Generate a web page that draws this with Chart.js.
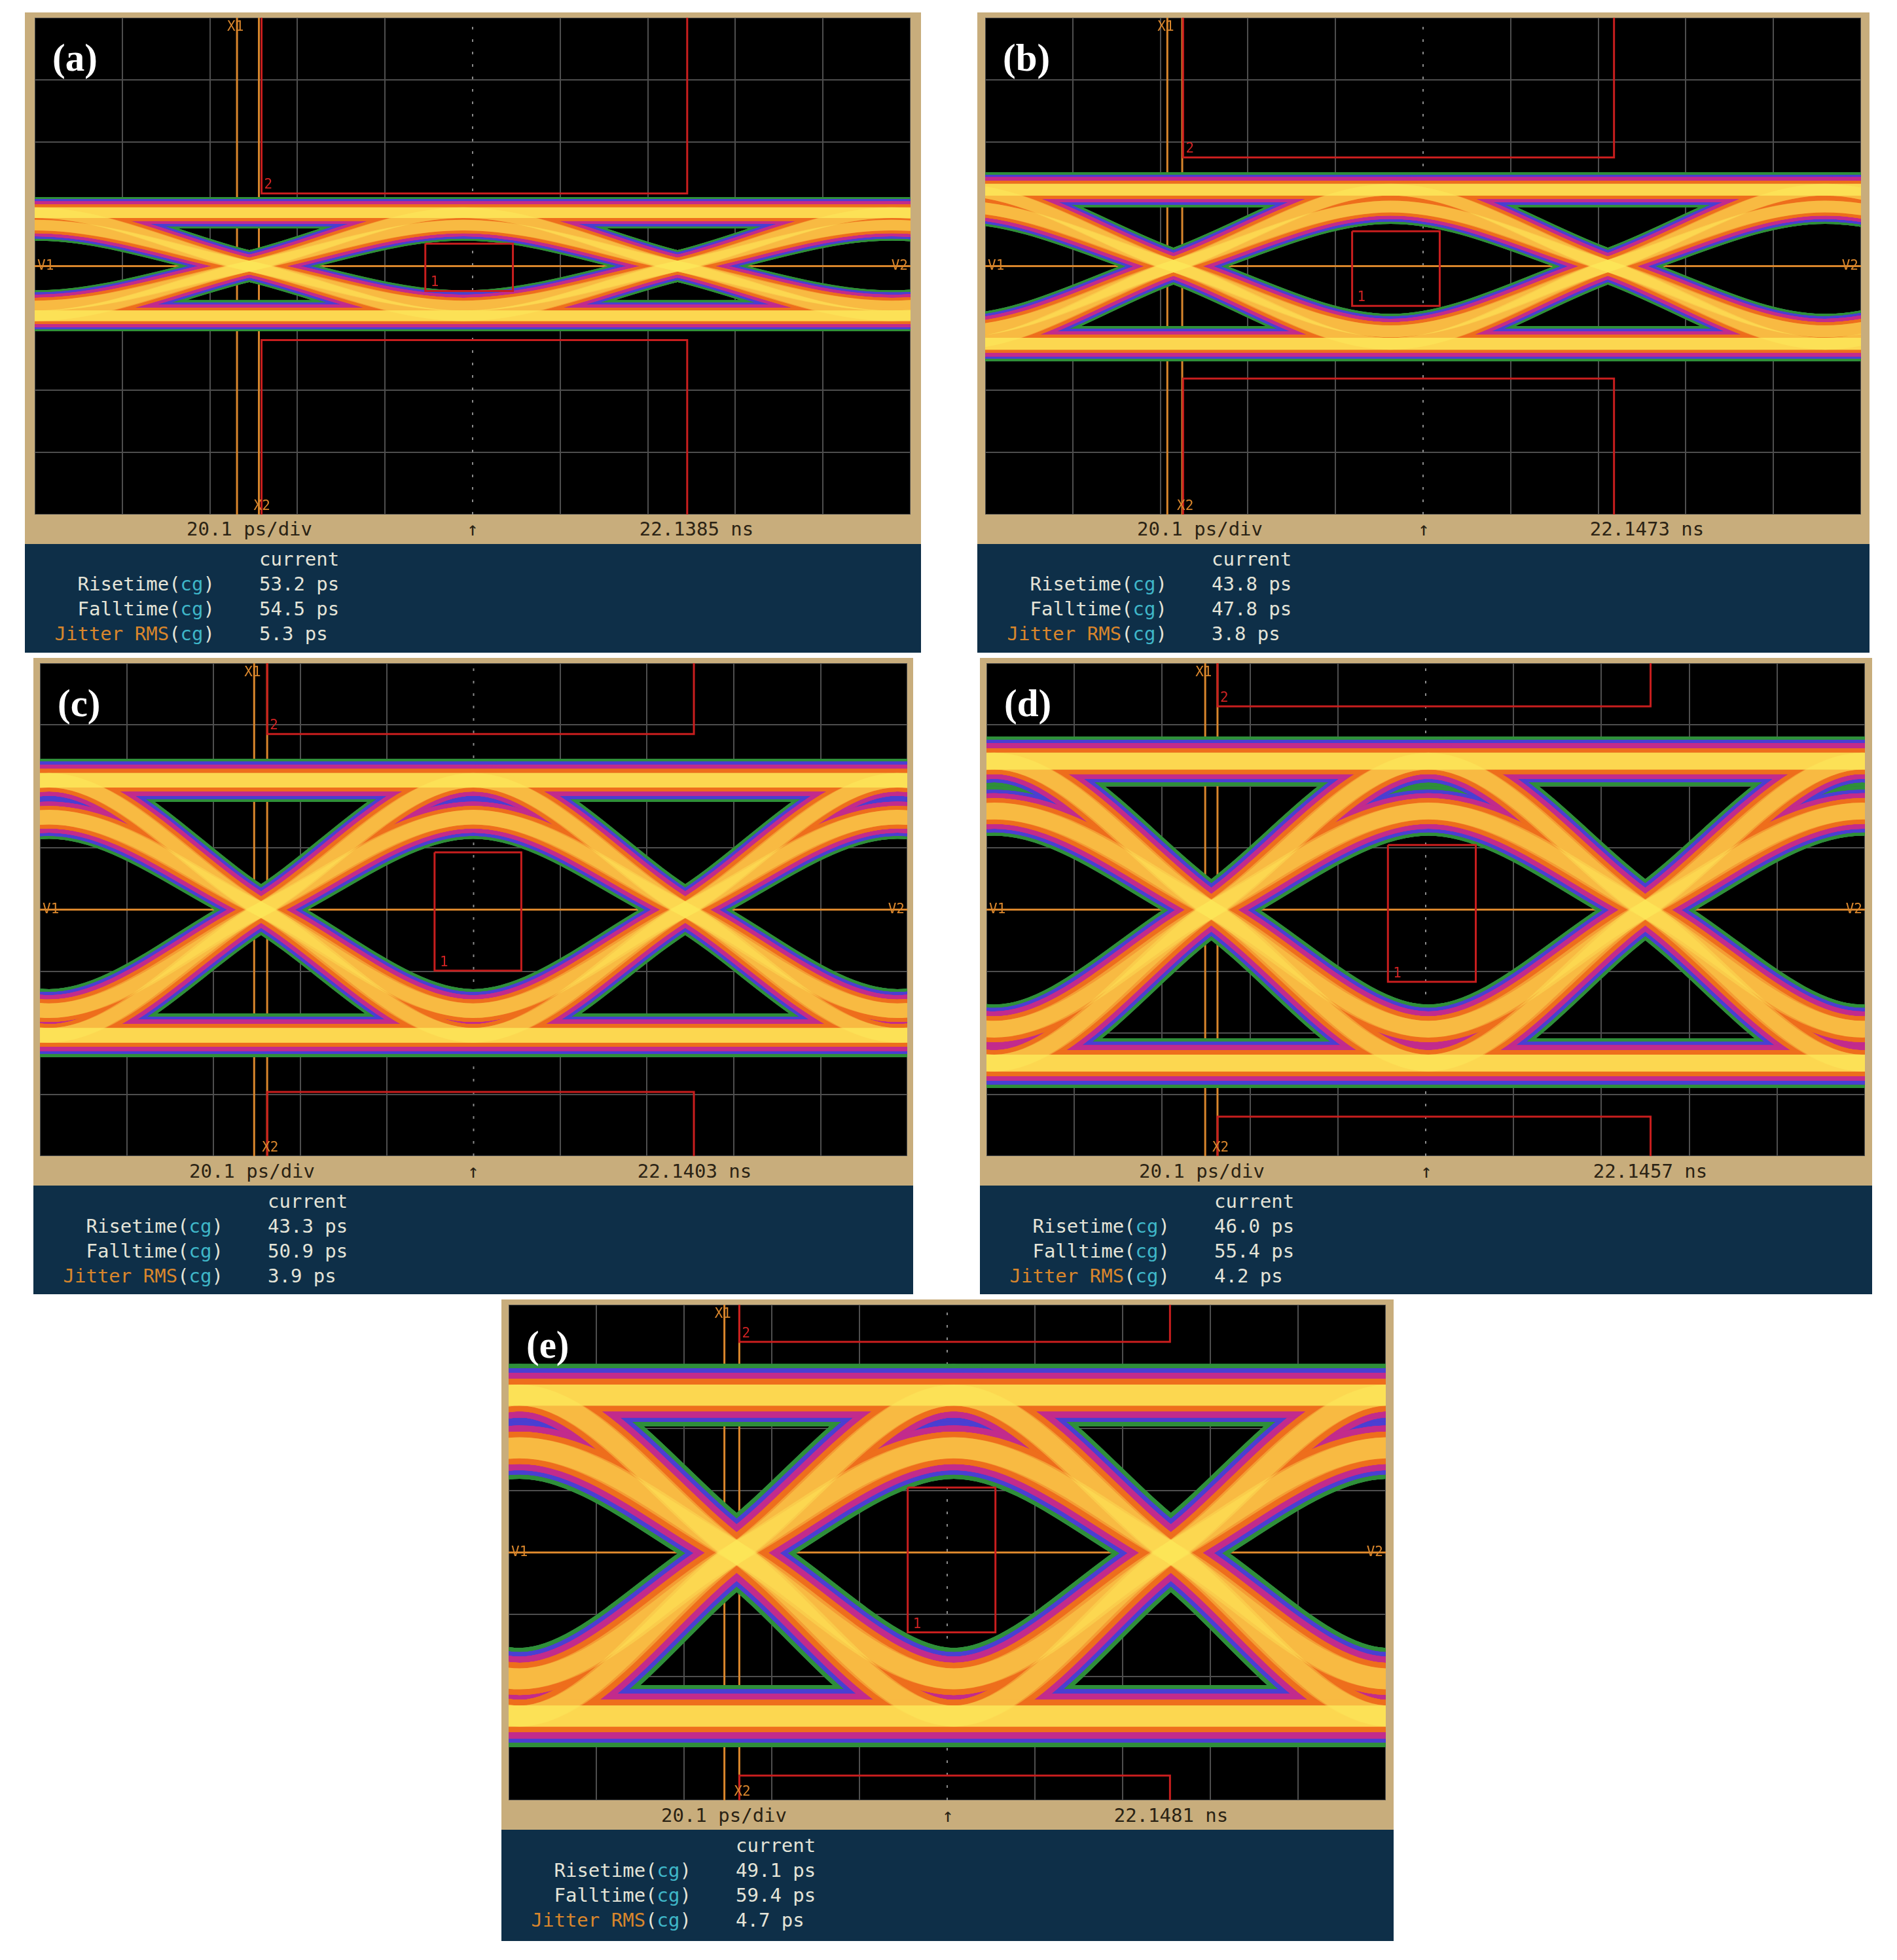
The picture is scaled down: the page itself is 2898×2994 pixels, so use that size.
<!DOCTYPE html>
<html>
<head>
<meta charset="utf-8">
<script src="https://cdn.jsdelivr.net/npm/chart.js@4.4.1/dist/chart.umd.min.js"></script>
<style>
  html, body { margin: 0; padding: 0; background: #ffffff; }
  body { width: 2898px; height: 2994px; position: relative; overflow: hidden; }
  .panel { position: absolute; background: #0e2f48; }
  .frame { position: absolute; left: 0; top: 0; right: 0; background: #c8ad7c; }
  .plot { position: absolute; background: #000; }
  .tag { position: absolute; color: #fff; font-family: "Liberation Serif", serif; font-weight: bold; }
  .status, .info { position: absolute; font-family: "DejaVu Sans Mono", monospace; white-space: pre; }
  .status { color: #2b2314; }
  .info { color: #e4e4d8; }
  .cy { color: #3fb7c9; }
  .or { color: #d9862c; }
</style>
</head>
<body>
<script>
const S = 2898 / 1520;
const px = v => Math.round(v * S);

// panel boxes (in reference layout units)
const panelLeft = [20, 783, 27, 785, 402];
const panelTop = [10, 10, 527, 527, 1041];
const panelWidth = [718, 715, 705, 715, 715];
const panelHeight = [513, 513, 510, 510, 514];
const plotWidth = [702, 702, 695, 704, 703];
const plotHeight = [398, 398, 395, 395, 397];

const panelNames = ['(a)', '(b)', '(c)', '(d)', '(e)'];

// eye parameters, in divisions (10 x 8 graticule, 0 at centre line)
const crossLeft = [2.45, 2.15, 2.55, 2.56, 2.60];
const crossRight = [7.34, 7.11, 7.44, 7.50, 7.55];
const railHigh = [0.86, 1.23, 2.10, 2.41, 2.54];
const railLow = [-0.80, -1.25, -2.04, -2.49, -2.64];
const arcTop = [0.66, 0.96, 1.50, 1.60, 1.69];
const arcBottom = [-0.64, -1.05, -1.64, -1.94, -2.04];
const bandWidth = [0.50, 0.56, 0.70, 0.80, 1.00];

// markers and masks
const markerX1 = [2.31, 2.08, 2.47, 2.49, 2.46];
const markerX2 = [2.56, 2.25, 2.62, 2.63, 2.63];
const maskLeft = [2.59, 2.26, 2.62, 2.63, 2.63];
const maskRight = [7.45, 7.18, 7.54, 7.56, 7.54];
const maskTop = [1.17, 1.75, 2.85, 3.30, 3.40];
const maskBottom = [-1.19, -1.81, -2.96, -3.36, -3.60];
const boxLeft = [4.46, 4.19, 4.55, 4.57, 4.55];
const boxRight = [5.46, 5.19, 5.55, 5.57, 5.55];
const boxTop = [0.36, 0.56, 0.93, 1.05, 1.05];
const boxBottom = [-0.40, -0.64, -0.99, -1.17, -1.29];

// readouts
const timeScale = ['20.1 ps/div', '20.1 ps/div', '20.1 ps/div', '20.1 ps/div', '20.1 ps/div'];
const timePos = ['22.1385 ns', '22.1473 ns', '22.1403 ns', '22.1457 ns', '22.1481 ns'];
const riseTime = ['53.2 ps', '43.8 ps', '43.3 ps', '46.0 ps', '49.1 ps'];
const fallTime = ['54.5 ps', '47.8 ps', '50.9 ps', '55.4 ps', '59.4 ps'];
const jitterRms = ['5.3 ps', '3.8 ps', '3.9 ps', '4.2 ps', '4.7 ps'];

const layerColors = ['#2f8f3a', '#4a3fd2', '#c22b8c', '#ee6e1c', 'rgba(255,232,90,0.22)'];
const layerShare = [1.0, 0.86, 0.72, 0.52, 0.34];

function bitTrace(i, bits) {
  const c1 = crossLeft[i], T = crossRight[i] - crossLeft[i];
  const rail = b => b ? railHigh[i] : railLow[i];
  const pts = [];
  for (let k = 0; k < 5; k++) {
    let y = rail(bits[k]);
    if (k > 0 && k < 4 && bits[k - 1] !== bits[k] && bits[k + 1] !== bits[k]) {
      y = bits[k] ? arcTop[i] : arcBottom[i];
    }
    pts.push({ x: c1 + (k - 1.5) * T, y: y });
    if (k < 4) {
      pts.push({ x: c1 + (k - 1) * T, y: bits[k] !== bits[k + 1] ? 0 : rail(bits[k]) });
    }
  }
  return pts;
}

function line(points, color, width, order, dash) {
  return {
    data: points, showLine: true, borderColor: color, borderWidth: width,
    pointRadius: 0, tension: 0, order: order, borderDash: dash || [], fill: false
  };
}

const labelPlugin = {
  id: 'labels',
  afterDatasetsDraw(chart) {
    const i = chart.config.options.panelIndex;
    const { ctx, scales: { x, y } } = chart;
    ctx.save();
    ctx.font = px(11) + 'px "DejaVu Sans Mono"';
    ctx.fillStyle = '#d9862c';
    ctx.textBaseline = 'top';
    ctx.fillText('X1', x.getPixelForValue(markerX1[i]) - px(8), y.getPixelForValue(4) + px(2));
    ctx.textBaseline = 'bottom';
    ctx.fillText('X2', x.getPixelForValue(markerX2[i]) - px(4), y.getPixelForValue(-4) - px(1));
    ctx.textBaseline = 'middle';
    ctx.fillText('V1', x.getPixelForValue(0) + px(2), y.getPixelForValue(0));
    ctx.textAlign = 'right';
    ctx.fillText('V2', x.getPixelForValue(10) - px(2), y.getPixelForValue(0));
    ctx.textAlign = 'left';
    ctx.fillStyle = '#d02222';
    ctx.textBaseline = 'bottom';
    ctx.fillText('2', x.getPixelForValue(maskLeft[i]) + px(2), y.getPixelForValue(maskTop[i]) - px(1));
    ctx.fillText('1', x.getPixelForValue(boxLeft[i]) + px(4), y.getPixelForValue(boxBottom[i]) - px(1));
    ctx.restore();
  }
};

for (let i = 0; i < 5; i++) {
  const panel = document.createElement('div');
  panel.className = 'panel';
  Object.assign(panel.style, {
    left: px(panelLeft[i]) + 'px', top: px(panelTop[i]) + 'px',
    width: px(panelWidth[i]) + 'px', height: px(panelHeight[i]) + 'px'
  });
  const inset = (panelWidth[i] - plotWidth[i]) / 2;
  const frame = document.createElement('div');
  frame.className = 'frame';
  frame.style.height = px(4 + plotHeight[i] + 24) + 'px';
  panel.appendChild(frame);

  const plot = document.createElement('div');
  plot.className = 'plot';
  Object.assign(plot.style, {
    left: px(inset) + 'px', top: px(4) + 'px',
    width: px(plotWidth[i]) + 'px', height: px(plotHeight[i]) + 'px'
  });
  const canvas = document.createElement('canvas');
  canvas.width = px(plotWidth[i]);
  canvas.height = px(plotHeight[i]);
  plot.appendChild(canvas);
  const tag = document.createElement('div');
  tag.className = 'tag';
  tag.textContent = panelNames[i];
  Object.assign(tag.style, { left: px(14) + 'px', top: px(14) + 'px', fontSize: px(31) + 'px' });
  plot.appendChild(tag);
  panel.appendChild(plot);

  const sy = px(4 + plotHeight[i]);
  const fs = px(15);
  const mk = (text, center) => {
    const d = document.createElement('div');
    d.className = 'status';
    d.textContent = text;
    Object.assign(d.style, { top: (sy + px(3)) + 'px', fontSize: fs + 'px', left: px(center) + 'px', transform: 'translateX(-50%)' });
    panel.appendChild(d);
  };
  mk(timeScale[i], inset + plotWidth[i] * 0.245);
  mk('↑', inset + plotWidth[i] * 0.5);
  mk(timePos[i], inset + plotWidth[i] * 0.755);

  const info = document.createElement('div');
  info.className = 'info';
  Object.assign(info.style, { left: 0, top: (sy + px(26)) + 'px', fontSize: fs + 'px', lineHeight: px(20) + 'px' });
  const lw = px(152), vx = px(188);
  const rows = [
    ['', 'current'],
    ['Risetime(<span class="cy">cg</span>)', riseTime[i]],
    ['Falltime(<span class="cy">cg</span>)', fallTime[i]],
    ['<span class="or">Jitter RMS</span>(<span class="cy">cg</span>)', jitterRms[i]]
  ];
  info.innerHTML = rows.map(r =>
    '<div style="position:relative;height:' + px(20) + 'px">' +
    '<span style="position:absolute;right:' + (px(panelWidth[i]) - lw) + 'px">' + r[0] + '</span>' +
    '<span style="position:absolute;left:' + vx + 'px">' + r[1] + '</span></div>').join('');
  info.style.width = px(panelWidth[i]) + 'px';
  panel.appendChild(info);
  document.body.appendChild(panel);

  // datasets
  const divPx = px(plotHeight[i]) / 8;
  const datasets = [];
  datasets.push(line([{ x: 5, y: -4 }, { x: 5, y: 4 }], '#8a8a8a', px(1.2), 200, [px(2), px(8)]));
  datasets.push(line([{ x: 0, y: 0 }, { x: 10, y: 0 }], '#d9862c', px(1.5), 150));
  datasets.push(line([{ x: markerX1[i], y: -4 }, { x: markerX1[i], y: 4 }], '#d9862c', px(1.5), 150));
  datasets.push(line([{ x: markerX2[i], y: -4 }, { x: markerX2[i], y: 4 }], '#d9862c', px(1.5), 150));
  const traces = [];
  for (let c = 0; c < 32; c++) {
    const bits = [0, 1, 2, 3, 4].map(k => (c >> k) & 1);
    traces.push(bitTrace(i, bits));
  }
  layerColors.forEach((col, L) => {
    traces.forEach(t => {
      const d = line(t, col, bandWidth[i] * divPx * layerShare[L], 60 - L * 10);
      d.cubicInterpolationMode = 'monotone';
      datasets.push(d);
    });
  });
  datasets.push(line([{ x: maskLeft[i], y: 4.2 }, { x: maskLeft[i], y: maskTop[i] }, { x: maskRight[i], y: maskTop[i] }, { x: maskRight[i], y: 4.2 }], '#c81e1e', px(1.5), 1));
  datasets.push(line([{ x: maskLeft[i], y: -4.2 }, { x: maskLeft[i], y: maskBottom[i] }, { x: maskRight[i], y: maskBottom[i] }, { x: maskRight[i], y: -4.2 }], '#c81e1e', px(1.5), 1));
  datasets.push(line([{ x: boxLeft[i], y: boxTop[i] }, { x: boxRight[i], y: boxTop[i] }, { x: boxRight[i], y: boxBottom[i] }, { x: boxLeft[i], y: boxBottom[i] }, { x: boxLeft[i], y: boxTop[i] }], '#c81e1e', px(1.5), 1));

  new Chart(canvas, {
    type: 'scatter',
    data: { datasets: datasets },
    options: {
      panelIndex: i,
      responsive: false,
      animation: false,
      devicePixelRatio: 1,
      events: [],
      layout: { padding: 0 },
      plugins: { legend: { display: false }, tooltip: { enabled: false } },
      scales: {
        x: {
          min: 0, max: 10,
          ticks: { display: false, stepSize: 1 },
          border: { display: false },
          grid: { drawTicks: false, lineWidth: px(1), color: c => c.tick && c.tick.value === 5 ? 'rgba(0,0,0,0)' : '#4e4e4e' }
        },
        y: {
          min: -4, max: 4,
          ticks: { display: false, stepSize: 1 },
          border: { display: false },
          grid: { drawTicks: false, lineWidth: px(1), color: c => c.tick && c.tick.value === 0 ? 'rgba(0,0,0,0)' : '#4e4e4e' }
        }
      }
    },
    plugins: [labelPlugin]
  });
}
</script>
</body>
</html>
